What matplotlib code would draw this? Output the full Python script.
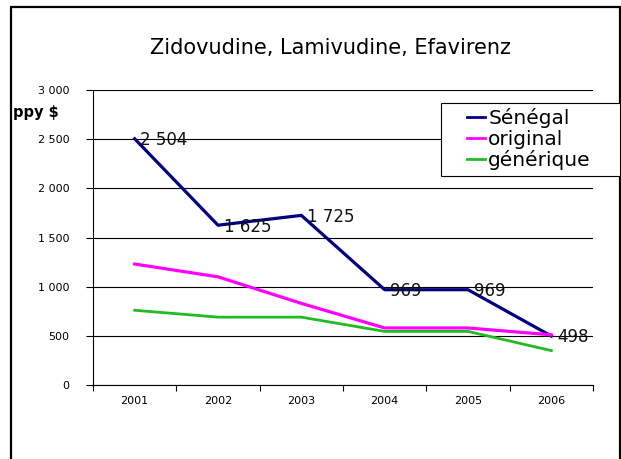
import matplotlib
matplotlib.use("Agg")
import matplotlib.pyplot as plt
from matplotlib.patches import Rectangle

years = ["2001", "2002", "2003", "2004", "2005", "2006"]
senegal = [2504, 1625, 1725, 969, 969, 498]
original = [1230, 1100, 830, 580, 580, 510]
generique = [760, 690, 690, 545, 545, 350]
senegal_labels = ["2 504", "1 625", "1 725", "969", "969", "498"]
y_ticks = [0, 500, 1000, 1500, 2000, 2500, 3000]
y_tick_labels = ["0", "500", "1 000", "1 500", "2 000", "2 500", "3 000"]

W, H = 621, 459
fig = plt.figure(figsize=(W / 100, H / 100), dpi=100)
ax = fig.add_axes([93 / W, 1 - 385 / H, 500 / W, 295 / H])

x = [i + 0.5 for i in range(len(years))]
ax.plot(x, senegal, color="#000080", linewidth=2.3, label="Sénégal", zorder=3)
ax.plot(x, original, color="#FF00FF", linewidth=2.3, label="original", zorder=3)
ax.plot(x, generique, color="#22BB22", linewidth=2.0, label="générique", zorder=3)

for xi, yi, lab in zip(x, senegal, senegal_labels):
    ax.annotate(lab, (xi, yi), xytext=(4, -1), textcoords="offset points",
                ha="left", va="center", fontsize=12, color="#111111", zorder=4)

ax.set_xlim(0, 6)
ax.set_ylim(0, 3000)
ax.set_xticks(range(7))
ax.set_xticklabels([])
ax.set_xticks(x, minor=True)
ax.set_xticklabels(years, minor=True, fontsize=8)
ax.tick_params(axis="x", which="minor", length=0, pad=8)
ax.tick_params(axis="x", which="major", length=4, direction="out")
ax.set_yticks(y_ticks)
ax.set_yticklabels(y_tick_labels, fontsize=8)
ax.tick_params(axis="y", length=5, direction="out", pad=12)
ax.grid(axis="y", color="black", linewidth=0.8)
ax.set_axisbelow(True)
for side in ["top", "right"]:
    ax.spines[side].set_visible(False)
for side in ["left", "bottom"]:
    ax.spines[side].set_linewidth(0.8)

fig.text(330 / W, 1 - 48 / H, "Zidovudine, Lamivudine, Efavirenz",
         ha="center", va="center", fontsize=15)
fig.text(13 / W, 1 - 112 / H, "ppy $", ha="left", va="center",
         fontsize=10.5, fontweight="bold")

# legend box (drawn separately so the frame can be wider than the entries)
fig.patches.append(Rectangle((441 / W, 1 - 176 / H), 179 / W, 73 / H,
                             transform=fig.transFigure, facecolor="white",
                             edgecolor="black", linewidth=0.8, zorder=5))
leg = fig.legend(loc="upper left", bbox_to_anchor=(467 / W, 1 - 108 / H),
                 fontsize=14.5, frameon=False, handlelength=0.9,
                 handletextpad=0.15, borderpad=0, labelspacing=0.08,
                 borderaxespad=0)
leg.set_zorder(6)
for line in leg.get_lines():
    line.set_linewidth(2.0)

fig.patches.append(Rectangle((11 / W, -0.05), 609 / W, 1.05 - 7 / H,
                             transform=fig.transFigure, fill=False,
                             edgecolor="black", linewidth=1.6))

fig.savefig("out.png", dpi=100)
